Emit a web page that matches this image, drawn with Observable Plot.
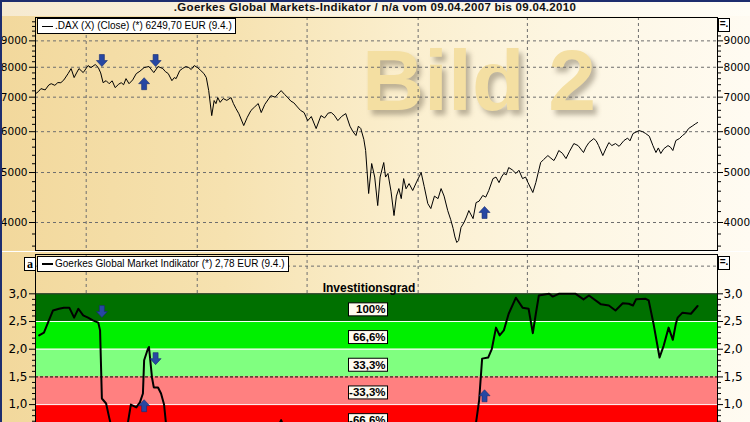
<!DOCTYPE html>
<html><head><meta charset="utf-8">
<script src="https://cdn.jsdelivr.net/npm/d3@7"></script>
<script src="https://cdn.jsdelivr.net/npm/@observablehq/plot@0.6"></script>
<style>
html,body{margin:0;padding:0;}
body{width:750px;height:422px;overflow:hidden;font-family:"DejaVu Sans",sans-serif;}
#wrap{position:relative;width:750px;height:422px;overflow:hidden;
  background:linear-gradient(to right,#f2d89c 0%,#f6e2b0 30%,#fbefcf 55%,#fdf6e2 75%,#fffbf2 100%);}
#topline{position:absolute;left:0;top:0;width:750px;height:2px;background:#1d2d6e;}
#leftline{position:absolute;left:0;top:0;width:2px;height:422px;background:#1d2d6e;}
#titlerow{position:absolute;left:2px;top:2px;width:748px;height:14px;
  background:linear-gradient(to right,#f6ead0,#fbf5e6 50%,#fffdf6);}
#title{position:absolute;left:0;top:1px;width:750px;text-align:center;font:bold 11.5px "Liberation Sans",sans-serif;color:#111;letter-spacing:0.3px;white-space:nowrap;}
#sep{position:absolute;left:0;top:251px;width:750px;height:1px;background:#fff;}
#wm{position:absolute;left:362px;top:37px;font:bold 86px/86px "Liberation Sans",sans-serif;color:#f4dfa2;
  text-shadow:4px 5px 5px rgba(110,100,80,0.45);white-space:nowrap;}
.legend{position:absolute;background:#fff;border:1px solid #000;font:10px "Liberation Sans",sans-serif;color:#000;height:14px;line-height:14px;padding:0 3px 0 4px;white-space:nowrap;box-sizing:content-box;}
.legend .ln{display:inline-block;width:11px;height:1px;background:#000;vertical-align:middle;margin-right:2px;}
.btn{position:absolute;width:10px;height:12px;border:1px solid #000;background:#fff;font:bold 10px/10px "Liberation Sans",sans-serif;text-align:center;}
.chart{position:absolute;left:0;}
</style>
</head><body>
<div id="wrap">
  <div id="titlerow"></div>
  <div id="title">.Goerkes Global Markets-Indikator / n/a vom 09.04.2007 bis 09.04.2010</div>
  <div id="wm">Bild 2</div>
  <div id="top" class="chart" style="top:0px"></div>
  <div id="bottom" class="chart" style="top:252px"></div>
  <div id="sep"></div>
  <div class="legend" style="left:37px;top:18px;"><span class="ln"></span>.DAX (X) (Close) (*) 6249,70 EUR (9.4.)</div>
  <div class="legend" style="left:37px;top:256px;"><span class="ln" style="height:2px"></span>Goerkes Global Market Indikator (*) 2,78 EUR (9.4.)</div>
  <div class="btn" style="left:718px;top:18px;">=.</div>
  <div class="btn" style="left:718px;top:256px;">=.</div>
  <div class="btn" style="left:24px;top:257px;font:bold 12px/12px 'Liberation Serif',serif;">a</div>
  <div id="topline"></div>
  <div id="leftline"></div>
</div>
<script>
// ---------------- data ----------------
const xStart = "2007-04-08", xEnd = "2010-05-12";
const gridDates = ["2007-07-01","2008-01-01","2008-07-01","2009-01-01","2009-07-01","2010-01-01"];

const daxSeries = [
["2007-04-09",7120],["2007-04-13",7180],["2007-04-17",7272],["2007-04-24",7230],["2007-04-30",7390],["2007-05-04",7434],
["2007-05-10",7380],["2007-05-15",7470],["2007-05-20",7467],["2007-05-25",7560],["2007-06-01",7776],
["2007-06-06",7953],["2007-06-11",7640],["2007-06-15",7800],["2007-06-19",7953],["2007-06-26",7812],["2007-06-29",7900],["2007-07-04",8060],
["2007-07-09",7990],["2007-07-16",8097],["2007-07-21",7990],["2007-07-25",7800],["2007-07-29",7467],["2007-08-03",7535],
["2007-08-08",7434],["2007-08-13",7530],["2007-08-18",7305],["2007-08-24",7420],["2007-08-28",7467],["2007-09-01",7400],["2007-09-05",7604],["2007-09-10",7434],
["2007-09-16",7560],["2007-09-22",7776],["2007-09-28",7860],["2007-10-05",7990],["2007-10-13",8025],["2007-10-21",7812],["2007-10-28",8025],
["2007-11-05",7953],["2007-11-09",7850],["2007-11-14",7776],["2007-11-20",7535],["2007-11-24",7640],["2007-11-27",7604],["2007-12-03",7881],
["2007-12-08",7960],["2007-12-13",8025],["2007-12-18",7990],["2007-12-22",7920],["2007-12-27",8060],["2008-01-02",7980],["2008-01-07",7881],["2008-01-12",7780],["2008-01-16",7640],
["2008-01-20",7208],["2008-01-25",6447],["2008-01-29",6895],["2008-02-01",6800],["2008-02-04",6987],["2008-02-08",6840],["2008-02-13",6956],
["2008-02-19",6900],["2008-02-26",6987],["2008-03-01",6800],["2008-03-05",6656],["2008-03-10",6500],["2008-03-18",6166],["2008-03-24",6400],["2008-03-30",6596],["2008-04-05",6700],["2008-04-11",6803],
["2008-04-16",6535],["2008-04-22",6780],["2008-05-02",7048],["2008-05-09",7000],["2008-05-19",7208],["2008-05-25",7080],["2008-05-30",6987],["2008-06-04",6880],["2008-06-09",6826],
["2008-06-15",6700],["2008-06-20",6600],["2008-06-26",6535],["2008-07-02",6300],["2008-07-08",6420],["2008-07-16",6084],["2008-07-24",6447],["2008-07-30",6380],["2008-08-05",6520],["2008-08-10",6535],["2008-08-15",6460],["2008-08-21",6304],
["2008-08-27",6420],["2008-09-03",6505],["2008-09-10",6150],["2008-09-15",6000],["2008-09-20",5898],["2008-09-24",6150],["2008-09-28",6084],["2008-10-03",5800],["2008-10-06",5516],["2008-10-11",4553],
["2008-10-16",5205],["2008-10-21",4900],["2008-10-26",4314],["2008-10-30",4900],["2008-11-05",5228],["2008-11-08",4900],["2008-11-12",4979],["2008-11-17",4600],["2008-11-22",4126],
["2008-11-26",4500],["2008-11-30",4654],["2008-12-04",4450],["2008-12-08",4866],["2008-12-12",4650],["2008-12-17",4759],["2008-12-23",4614],["2008-12-30",4810],["2009-01-06",4999],
["2009-01-11",4700],["2009-01-17",4352],["2009-01-22",4257],["2009-01-28",4500],["2009-02-03",4450],["2009-02-08",4654],["2009-02-13",4500],["2009-02-19",4219],["2009-02-24",4050],["2009-02-28",3894],
["2009-03-03",3750],["2009-03-06",3659],["2009-03-09",3690],["2009-03-13",3911],["2009-03-18",4000],["2009-03-22",4100],["2009-03-26",4219],["2009-04-02",4070],["2009-04-07",4372],
["2009-04-12",4400],["2009-04-18",4513],["2009-04-23",4480],["2009-04-28",4614],["2009-05-05",4866],["2009-05-10",4900],["2009-05-15",4780],["2009-05-19",4900],["2009-05-23",4979],
["2009-05-27",4950],["2009-05-31",5112],["2009-06-06",5060],["2009-06-12",4979],["2009-06-17",5050],["2009-06-23",4866],["2009-06-28",4900],["2009-07-02",4780],["2009-07-10",4573],
["2009-07-15",4780],["2009-07-19",5000],["2009-07-23",5228],["2009-07-28",5300],["2009-08-04",5393],["2009-08-09",5330],["2009-08-14",5274],["2009-08-18",5380],["2009-08-22",5516],
["2009-08-28",5450],["2009-09-03",5321],["2009-09-09",5500],["2009-09-16",5690],["2009-09-23",5639],["2009-10-02",5467],["2009-10-06",5600],["2009-10-11",5716],
["2009-10-19",5818],["2009-10-23",5760],["2009-10-27",5639],["2009-11-03",5393],["2009-11-08",5560],["2009-11-13",5716],["2009-11-18",5640],["2009-11-24",5690],
["2009-11-30",5620],["2009-12-08",5767],["2009-12-14",5830],["2009-12-18",5760],["2009-12-23",5951],["2010-01-02",6029],["2010-01-08",6000],["2010-01-13",5951],["2010-01-19",5880],["2010-01-25",5639],
["2010-01-30",5467],["2010-02-03",5580],["2010-02-07",5443],["2010-02-12",5560],["2010-02-19",5639],["2010-02-23",5600],["2010-02-27",5516],["2010-03-04",5767],
["2010-03-10",5820],["2010-03-15",5898],["2010-03-20",5960],["2010-03-25",6084],["2010-03-31",6150],["2010-04-06",6220],["2010-04-09",6250]
];

const indSeries = [
["2007-04-14",2.25],["2007-04-22",2.30],["2007-05-07",2.70],["2007-05-17",2.73],["2007-05-25",2.75],
["2007-06-03",2.75],["2007-06-11",2.57],["2007-06-18",2.73],["2007-06-26",2.61],["2007-07-04",2.57],
["2007-07-12",2.52],["2007-07-21",2.48],["2007-07-24",2.34],["2007-07-27",1.11],["2007-08-03",1.02],
["2007-08-08",0.77],["2007-08-15",0.45],["2007-08-28",0.40],["2007-09-07",0.60],["2007-09-13",1.00],
["2007-09-22",0.95],["2007-09-28",1.04],["2007-10-03",1.20],["2007-10-05",1.80],["2007-10-11",2.00],
["2007-10-13",2.04],["2007-10-18",1.49],["2007-10-21",1.31],["2007-10-28",1.31],["2007-11-02",1.20],
["2007-11-07",1.00],["2007-11-10",0.68],["2007-11-19",0.30],["2008-01-07",0.20],["2008-03-13",0.10],
["2008-05-10",0.50],["2008-05-19",0.72],["2008-05-27",0.50],["2008-08-10",0.30],["2008-12-03",0.20],
["2009-03-29",0.30],["2009-04-07",0.68],["2009-04-12",1.07],["2009-04-17",1.83],["2009-04-27",1.85],
["2009-05-03",2.00],["2009-05-10",2.39],["2009-05-16",2.25],["2009-05-23",2.34],["2009-05-31",2.64],
["2009-06-12",2.93],["2009-06-23",2.75],["2009-07-03",2.73],["2009-07-10",2.29],["2009-07-15",2.64],
["2009-07-20",2.97],["2009-08-06",3.00],["2009-08-12",2.95],["2009-08-22",3.00],["2009-09-19",3.00],
["2009-10-02",2.90],["2009-10-11",2.97],["2009-10-31",2.81],["2009-11-13",2.79],["2009-11-24",2.70],
["2009-12-06",2.83],["2009-12-16",2.82],["2009-12-23",2.79],["2009-12-28",2.90],["2010-01-13",2.91],
["2010-01-18",2.88],["2010-01-26",2.46],["2010-02-05",1.85],["2010-02-12",2.07],["2010-02-20",2.39],
["2010-02-27",2.17],["2010-03-04",2.46],["2010-03-07",2.57],["2010-03-15",2.66],["2010-03-29",2.64],
["2010-04-09",2.78]
];

// signal arrows: [date, dax level, indicator level, direction]
const signals = [
["2007-07-27",8244,2.68,"down"],
["2007-10-24",8244,1.83,"down"],
["2007-10-05",7434,0.98,"up"],
["2009-04-21",4183,1.16,"up"]
];

const daxTicks = [4000,5000,6000,7000,8000,9000];
const daxMinor = [3600,3800,4200,4400,4600,4800,5200,5400,5600,5800,6200,6400,6600,6800,7200,7400,7600,7800,8200,8400,8600,8800,9200,9400,9600,9800];
const indTicks = [1.0,1.5,2.0,2.5,3.0];
const indMinor = [0.6,0.7,0.8,0.9,1.1,1.2,1.3,1.4,1.6,1.7,1.8,1.9,2.1,2.2,2.3,2.4,2.6,2.7,2.8,2.9];
const bandLow   = [2.5, 2.0, 1.5, 1.0, 0.5];
const bandHigh  = [3.0, 2.5, 2.0, 1.5, 1.0];
const bandColor = ["#007000","#00f000","#80ff80","#ff8080","#ff0000"];
const bandLabel = ["100%","66,6%","33,3%","-33,3%","-66,6%"];
const whiteLevels = [2.5, 2.0, 1.0];
const dashLevel = [1.5];
const topLevel = [3.0];
const gridLevelInd = [3.5];

// ---------------- build ----------------
const P = d3.utcParse("%Y-%m-%d");
const dax = daxSeries.map(([d,v]) => ({date:P(d), close:v}));
const ind = indSeries.map(([d,v]) => ({date:P(d), value:v}));
const sig = signals.map(([d,a,b,dir]) => ({date:P(d), dax:a, ind:b, dir}));
const bands = bandLow.map((lo,i) => ({lo, hi:bandHigh[i], mid:(lo+bandHigh[i])/2, color:bandColor[i], label:bandLabel[i]}));
const grid = gridDates.map(P);

const arrowDown = {draw(c){ c.moveTo(-2.5,-6); c.lineTo(2.5,-6); c.lineTo(2.5,0); c.lineTo(5.5,0); c.lineTo(0,6); c.lineTo(-5.5,0); c.lineTo(-2.5,0); c.closePath(); }};
const arrowUp = {draw(c){ c.moveTo(-2.5,6); c.lineTo(2.5,6); c.lineTo(2.5,0); c.lineTo(5.5,0); c.lineTo(0,-6); c.lineTo(-5.5,0); c.lineTo(-2.5,0); c.closePath(); }};
const arrowStyle = {fill:"#2747a3", stroke:"#172c6e", strokeWidth:0.6, r:6};

const xOpts = {type:"utc", domain:[P(xStart), P(xEnd)], axis:null};
const gridStyle = {stroke:"#6e6e6e", strokeDasharray:"3,3", strokeWidth:1, strokeOpacity:1};
const baseStyle = {background:"transparent", fontFamily:"DejaVu Sans, sans-serif", fontSize:"10.5px", color:"#000", overflow:"visible"};

const topChart = Plot.plot({
  width:750, height:251, marginLeft:35, marginRight:33, marginTop:17, marginBottom:1,
  style: baseStyle,
  x: xOpts,
  y: {type:"log", domain:[3530, 9990], axis:null},
  marks: [
    Plot.gridY(daxTicks, gridStyle),
    Plot.ruleX(grid, gridStyle),
    Plot.line(dax, {x:"date", y:"close", stroke:"#000", strokeWidth:1}),
    Plot.dot(sig, {filter:d=>d.dir==="down", x:"date", y:"dax", symbol:arrowDown, ...arrowStyle}),
    Plot.dot(sig, {filter:d=>d.dir==="up", x:"date", y:"dax", symbol:arrowUp, ...arrowStyle}),
    Plot.frame({stroke:"#000"}),
    Plot.axisY(daxTicks, {anchor:"left", tickSize:6, tickPadding:2, tickFormat:d=>String(d), label:null}),
    Plot.axisY(daxMinor, {anchor:"left", tickSize:3, tickFormat:()=>"", label:null}),
    Plot.axisY(daxTicks, {anchor:"right", tickSize:5, tickPadding:1, tickFormat:d=>String(d), label:null}),
    Plot.axisY(daxMinor, {anchor:"right", tickSize:3, tickFormat:()=>"", label:null})
  ]
});
document.getElementById("top").appendChild(topChart);

const fmt = d => d.toFixed(1).replace(".", ",");
const botChart = Plot.plot({
  width:750, height:220, marginLeft:35, marginRight:33, marginTop:2, marginBottom:12.5,
  style: baseStyle,
  x: xOpts,
  y: {domain:[0, 3.71], axis:null},
  color: {type:"identity"},
  marks: [
    Plot.ruleX(grid, gridStyle),
    Plot.ruleY(gridLevelInd, gridStyle),
    Plot.rect(bands, {y1:"lo", y2:"hi", fill:"color"}),
    Plot.ruleY(whiteLevels, {stroke:"#fff", strokeWidth:1}),
    Plot.ruleY(dashLevel, {stroke:"#000", strokeDasharray:"3,2", strokeWidth:1}),
    Plot.ruleY(topLevel, {stroke:"#333", strokeWidth:1}),
    Plot.text(["Investitionsgrad"], {frameAnchor:"top", dy:29, dx:-7.5, fontWeight:"bold", fontSize:12, fontFamily:"Liberation Sans, sans-serif"}),
    Plot.line(ind, {x:"date", y:"value", stroke:"#000", strokeWidth:2}),
    Plot.text(bands, {y:"mid", text:"label", frameAnchor:"middle", textAnchor:"end", dx:9, dy:2, fontSize:11.5, fontWeight:"bold", fontFamily:"Liberation Sans, sans-serif"}),
    Plot.dot(sig, {filter:d=>d.dir==="down", x:"date", y:"ind", symbol:arrowDown, ...arrowStyle}),
    Plot.dot(sig, {filter:d=>d.dir==="up", x:"date", y:"ind", symbol:arrowUp, ...arrowStyle}),
    Plot.frame({stroke:"#000"}),
    Plot.axisY(indTicks, {anchor:"left", tickSize:6, tickPadding:2, tickFormat:fmt, label:null, fontSize:12}),
    Plot.axisY(indMinor, {anchor:"left", tickSize:3, tickFormat:()=>"", label:null}),
    Plot.axisY(indTicks, {anchor:"right", tickSize:5, tickPadding:1, tickFormat:fmt, label:null, fontSize:12}),
    Plot.axisY(indMinor, {anchor:"right", tickSize:3, tickFormat:()=>"", label:null})
  ]
});
document.getElementById("bottom").appendChild(botChart);

// white boxes behind band labels
d3.select(botChart).selectAll("text")
  .filter(function(){ return bandLabel.includes(this.textContent); })
  .each(function(){
    const b = this.getBBox();
    const t = this.getAttribute("transform");
    const right = b.x + b.width;
    const r = d3.select(this.parentNode).insert("rect", () => this)
      .attr("x", right - 37).attr("y", b.y - 0.5)
      .attr("width", 39).attr("height", b.height + 1)
      .attr("fill", "#fffbf0").attr("stroke", "#000").attr("stroke-width", 1);
    if (t) r.attr("transform", t);
  });
</script>
</body></html>
